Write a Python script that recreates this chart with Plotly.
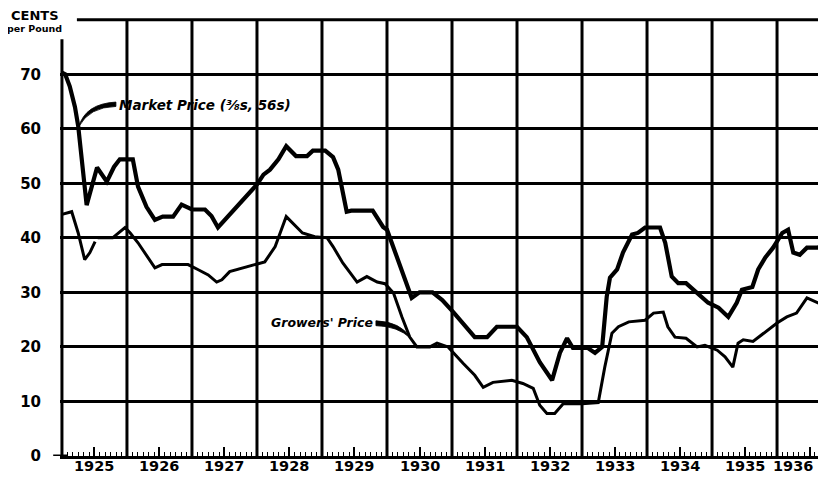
import plotly.graph_objects as go

# ---------------- data ----------------
year_labels = ["1925", "1926", "1927", "1928", "1929", "1930",
               "1931", "1932", "1933", "1934", "1935", "1936"]
year_starts = [1925, 1926, 1927, 1928, 1929, 1930,
               1931, 1932, 1933, 1934, 1935, 1936]
y_ticks = [0, 10, 20, 30, 40, 50, 60, 70]
y_tick_labels = ["0", "10", "20", "30", "40", "50", "60", "70"]

market_t = [1925.0, 1925.05, 1925.12, 1925.2, 1925.25, 1925.38, 1925.54, 1925.69,
            1925.8, 1925.89, 1926.09, 1926.17, 1926.3, 1926.43, 1926.55, 1926.71,
            1926.84, 1927.0, 1927.2, 1927.3, 1927.4, 1928.0, 1928.1, 1928.2,
            1928.33, 1928.45, 1928.6, 1928.77, 1928.86, 1929.05, 1929.17, 1929.25,
            1929.38, 1929.45, 1929.78, 1929.94, 1930.0, 1930.15, 1930.25, 1930.38,
            1930.5, 1930.7, 1930.85, 1931.02, 1931.35, 1931.54, 1931.69, 1932.0,
            1932.15, 1932.35, 1932.54, 1932.66, 1932.77, 1932.86, 1933.09, 1933.2,
            1933.31, 1933.38, 1933.43, 1933.54, 1933.63, 1933.77, 1933.86, 1933.97,
            1934.2, 1934.28, 1934.38, 1934.48, 1934.6, 1934.77, 1934.94, 1935.1,
            1935.25, 1935.38, 1935.46, 1935.62, 1935.71, 1935.82, 1935.94, 1936.08,
            1936.17, 1936.25, 1936.35, 1936.46, 1936.62, 1936.76]
market_v = [70.3, 70.0, 67.8, 64.0, 60.5, 46.0, 52.9, 50.3,
            53.0, 54.4, 54.4, 49.4, 45.7, 43.3, 43.9, 43.9,
            46.1, 45.2, 45.2, 44.0, 41.9, 49.8, 51.6, 52.5,
            54.4, 56.8, 55.0, 55.0, 56.0, 56.0, 54.8, 52.5,
            44.8, 45.0, 45.0, 42.0, 41.5, 36.5, 32.8, 29.0,
            30.0, 30.0, 28.6, 26.4, 21.8, 21.8, 23.7, 23.7,
            21.8, 17.2, 13.9, 18.9, 21.6, 19.8, 19.8, 18.9,
            20.0, 29.2, 32.7, 34.2, 37.3, 40.6, 40.9, 41.9,
            41.9, 39.1, 32.9, 31.7, 31.7, 29.9, 28.1, 27.2,
            25.5, 28.1, 30.5, 31.0, 34.2, 36.4, 38.2, 40.9,
            41.5, 37.3, 36.9, 38.2, 38.2, 38.7]

growers_t = [1925.0, 1925.15, 1925.25, 1925.35, 1925.43, 1925.51, None,
             1925.55, 1925.78, 1925.97, 1926.05, 1926.17, 1926.3, 1926.43, 1926.54,
             1926.94, 1927.09, 1927.25, 1927.38, 1927.46, 1927.58, 1927.78, 1927.97,
             1928.12, 1928.28, 1928.45, 1928.7, 1928.89, 1929.08, 1929.17, 1929.32,
             1929.54, 1929.69, 1929.85, 1929.97, 1930.1, 1930.23, 1930.35, 1930.46,
             1930.66, 1930.77, 1930.94, 1931.17, 1931.35, 1931.48, 1931.63, 1931.92,
             1932.09, 1932.25, 1932.35, 1932.46, 1932.58, 1932.71, 1933.0, 1933.25,
             1933.35, 1933.46, 1933.56, 1933.72, 1933.97, 1934.1, 1934.25, 1934.32,
             1934.43, 1934.6, 1934.77, 1934.89, 1935.08, 1935.2, 1935.32, 1935.4,
             1935.48, 1935.63, 1935.82, 1936.0, 1936.15, 1936.3, 1936.46, 1936.62,
             1936.76]
growers_v = [44.3, 44.8, 40.9, 36.0, 37.3, 39.3, None,
             40.0, 40.0, 41.9, 40.9, 39.1, 36.9, 34.5, 35.1,
             35.1, 34.2, 33.2, 31.9, 32.3, 33.8, 34.5, 35.1,
             35.6, 38.4, 43.9, 40.9, 40.2, 40.0, 38.4, 35.4,
             31.9, 32.9, 31.9, 31.6, 29.9, 25.5, 21.8, 20.0,
             20.0, 20.7, 20.0, 17.0, 14.8, 12.6, 13.5, 13.9,
             13.3, 12.4, 9.3, 7.8, 7.8, 9.6, 9.6, 9.8,
             16.3, 22.5, 23.7, 24.6, 24.9, 26.2, 26.4, 23.7,
             21.8, 21.6, 20.0, 20.3, 19.4, 18.2, 16.3, 20.7,
             21.3, 21.0, 22.8, 24.4, 25.5, 26.2, 29.0, 28.1,
             27.4]

# ---------------- figure ----------------
# (the page body keeps an 8px default margin, so the figure is made smaller
#  so that the page does not overflow the window)
FONT = "DejaVu Sans"
X0, X1 = 1924.97, 1936.754

fig = go.Figure()
fig.add_trace(go.Scatter(x=growers_t, y=growers_v, mode="lines",
                         line=dict(color="black", width=3), connectgaps=False,
                         hoverinfo="skip"))
fig.add_trace(go.Scatter(x=market_t, y=market_v, mode="lines",
                         line=dict(color="black", width=4.2),
                         hoverinfo="skip"))

shapes = []
for yr in year_starts[1:]:
    shapes.append(dict(type="line", xref="x", yref="y", x0=yr, x1=yr, y0=0, y1=80,
                       line=dict(color="black", width=3), layer="below"))
# left axis (starts a little below the top)
shapes.append(dict(type="line", xref="x", yref="y", x0=year_starts[0], x1=year_starts[0],
                   y0=0, y1=76.4, line=dict(color="black", width=3), layer="below"))
# top rule
shapes.append(dict(type="line", xref="x", yref="y", x0=1925.23, x1=X1, y0=80, y1=80,
                   line=dict(color="black", width=3), layer="below"))
# base line extends slightly left of the frame
shapes.append(dict(type="line", xref="paper", yref="y", x0=-0.009, x1=0.01, y0=0, y1=0,
                   line=dict(color="black", width=3), layer="below"))
# pointer swooshes (tapered)
shapes.append(dict(type="path", xref="x", yref="y",
                   path="M 1925.26 60.4 Q 1925.36 64.6 1925.83 64.9 L 1925.83 64.1 Q 1925.42 64.0 1925.26 60.4 Z",
                   fillcolor="black", line=dict(color="black", width=0.8)))
shapes.append(dict(type="path", xref="x", yref="y",
                   path="M 1929.83 24.8 Q 1930.22 24.6 1930.36 21.6 Q 1930.17 23.8 1929.83 23.9 Z",
                   fillcolor="black", line=dict(color="black", width=0.8)))

annotations = [
    dict(text="<b>CENTS</b>", xref="paper", yref="paper", x=-0.066, y=1.0023,
         xanchor="left", yanchor="middle", showarrow=False, borderpad=0,
         font=dict(family=FONT, size=13, color="black")),
    dict(text="<b>per Pound</b>", xref="paper", yref="paper", x=-0.071, y=0.9727,
         xanchor="left", yanchor="middle", showarrow=False, borderpad=0,
         font=dict(family=FONT, size=9.5, color="black")),
    dict(text="<b><i>Market Price (⅜s, 56s)</i></b>", xref="x", yref="y",
         x=1925.84, y=64.4, xanchor="left", yanchor="middle", showarrow=False,
         font=dict(family=FONT, size=13.5, color="black")),
    dict(text="<b><i>Growers' Price</i></b>", xref="x", yref="y",
         x=1929.82, y=24.4, xanchor="right", yanchor="middle", showarrow=False,
         font=dict(family=FONT, size=12.5, color="black")),
]
# year labels, centred in each year band just under the base line
for i, (yr, lab) in enumerate(zip(year_starts, year_labels)):
    annotations.append(dict(text="<b>" + lab + "</b>", xref="x", yref="paper",
                            x=yr + 0.5, y=0, yshift=-10, borderpad=0,
                            xshift=-17 if i == len(year_starts) - 1 else 0,
                            xanchor="center", yanchor="middle", showarrow=False,
                            font=dict(family=FONT, size=14.5, color="black")))

fig.update_layout(
    width=810, height=465,
    margin=dict(l=52, r=0, t=9, b=17),
    paper_bgcolor="white", plot_bgcolor="white",
    showlegend=False,
    shapes=shapes, annotations=annotations,
    font=dict(family=FONT, color="black"),
    xaxis=dict(range=[X0, 1936.63], tickmode="array", automargin=False,
               tickvals=[y + 0.5 for y in year_starts],
               ticktext=["" for _ in year_labels],
               ticks="inside", ticklen=9, tickwidth=1.5, tickcolor="black",
               showgrid=False, zeroline=False,
               showline=True, linecolor="black", linewidth=3,
               minor=dict(tick0=1925, dtick=1 / 12, ticks="inside", ticklen=4,
                          tickwidth=1, tickcolor="black", showgrid=False),
               fixedrange=True),
    yaxis=dict(range=[0, 80.5], tickmode="array", tickvals=y_ticks, automargin=False,
               ticktext=y_tick_labels, showgrid=True, gridcolor="black",
               gridwidth=2.5, zeroline=False, showline=False, ticks="",
               ticklabelstandoff=18,
               tickfont=dict(family=FONT, size=15, color="black", weight="bold"),
               fixedrange=True),
)

fig.write_html("out.html")
